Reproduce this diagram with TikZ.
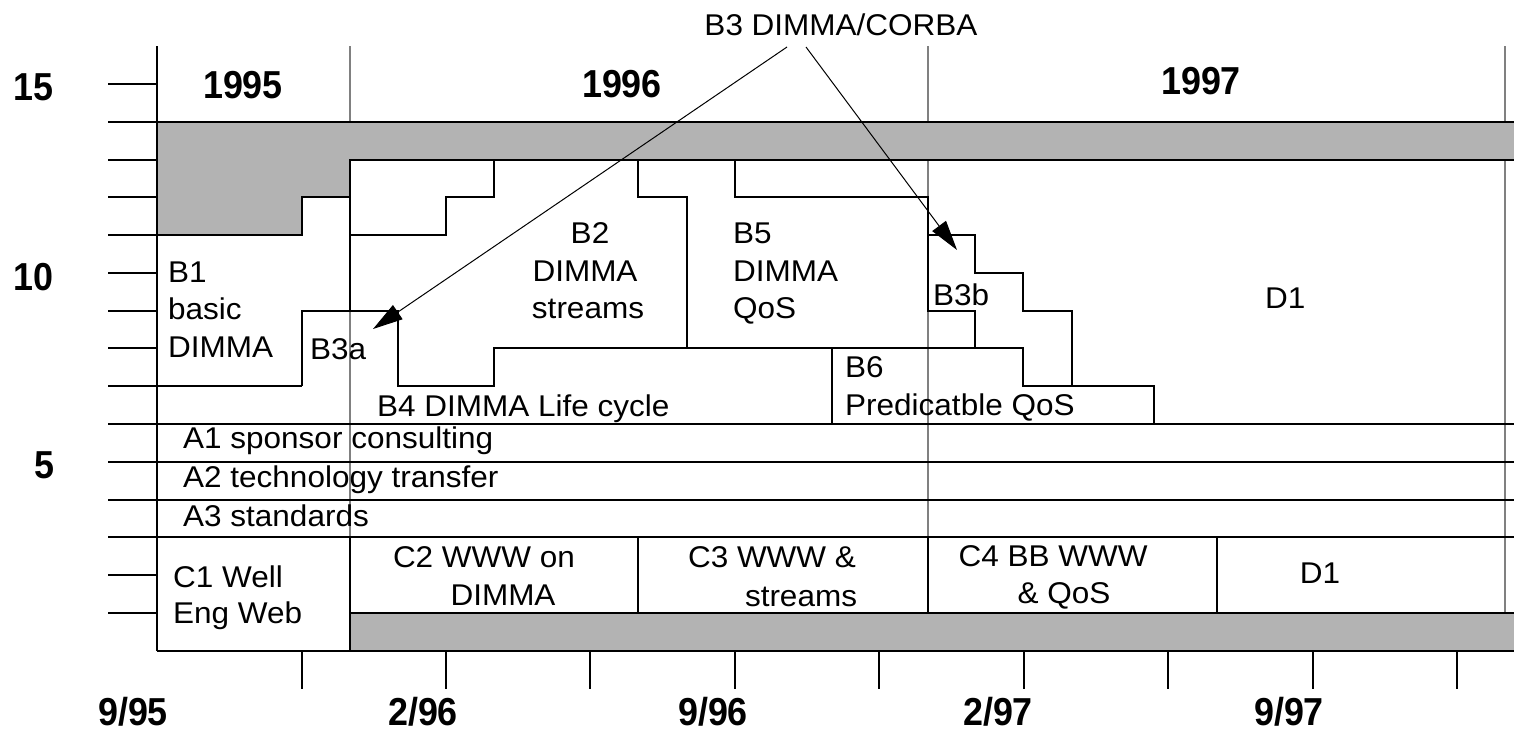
\documentclass[tikz,border=0pt]{standalone}
\usepackage{fontspec}
\setmainfont{Liberation Sans}
\newfontfamily\regf{Liberation Sans}[FakeStretch=1.05]
\newfontfamily\boldf{Liberation Sans}[FakeStretch=0.92]
\usetikzlibrary{arrows.meta}
\definecolor{bandgray}{HTML}{B3B3B3}
\definecolor{gridgray}{HTML}{808080}
\tikzset{
  lbl/.style={inner sep=0pt, font=\regf\fontsize{30}{37.5}\selectfont},
  blbl/.style={inner sep=0pt, font=\boldf\bfseries\fontsize{39}{45}\selectfont},
  ln/.style={line width=1.2pt, draw=black},
  yearline/.style={line width=1.2pt, draw=gridgray},
  band/.style={fill=bandgray, draw=black, line width=1.2pt},
  arr/.style={line width=1pt, -{Triangle[length=30pt,width=17pt]}}
}
\begin{document}
\begin{tikzpicture}[x=1pt,y=-1pt]
\useasboundingbox (0,0) rectangle (1514,732);
% year separator lines (gray, under everything)
\draw[yearline] (350,46) -- (350,651);
\draw[yearline] (928,46) -- (928,613);
\draw[yearline] (1505,46) -- (1505,613);
% gray bands
\path[fill=bandgray] (157,122) -- (1514,122) -- (1514,160) -- (350,160) -- (350,197) -- (302,197) -- (302,235) -- (157,235) -- cycle;
\draw[ln] (1514,122) -- (157,122) -- (157,235) -- (302,235) -- (302,197) -- (350,197) -- (350,160) -- (1514,160);
\path[fill=bandgray] (350,613) rectangle (1514,651);
% left border
\draw[ln] (157,46) -- (157,651);
% row ticks
\foreach \yy in {84,122,160,197,235,273,311,348,386,424,462,500,537,575,613}
  \draw[ln] (108,\yy) -- (157,\yy);
% long row lines
\draw[ln] (157,122) -- (1514,122);
\draw[ln] (157,386) -- (302,386);
\foreach \yy in {424,462,500,537}
  \draw[ln] (157,\yy) -- (1514,\yy);
\draw[ln] (350,613) -- (1514,613);
\draw[ln] (157,651) -- (1514,651);
% B region boundaries
\draw[ln] (350,160) -- (350,311);
\draw[ln] (350,235) -- (446,235) -- (446,197) -- (494,197) -- (494,160);
\draw[ln] (302,386) -- (302,311) -- (398,311) -- (398,386) -- (494,386) -- (494,348) -- (1023,348) -- (1023,386) -- (1154,386) -- (1154,424);
\draw[ln] (832,348) -- (832,424);
\draw[ln] (638,160) -- (638,197) -- (687,197) -- (687,348);
\draw[ln] (735,160) -- (735,197) -- (928,197) -- (928,311) -- (975,311) -- (975,348);
\draw[ln] (928,235) -- (975,235) -- (975,273) -- (1023,273) -- (1023,311) -- (1072,311) -- (1072,386);
% C boxes
\draw[ln] (350,537) -- (350,651);
\draw[ln] (638,537) -- (638,613);
\draw[ln] (928,537) -- (928,613);
\draw[ln] (1217,537) -- (1217,613);
% bottom ticks
\foreach \xx in {302,446,590,735,879,1024,1168,1313,1457}
  \draw[ln] (\xx,651) -- (\xx,689);
% bold labels
\node[blbl, anchor=base] (y95) at (243,98) {1995};
\node[blbl, anchor=base] (y96) at (622,97) {1996};
\node[blbl, anchor=base] (y97) at (1201,94) {1997};
\node[blbl, anchor=base east] (v15) at (54,100) {15};
\node[blbl, anchor=base east] (v10) at (54,290) {10};
\node[blbl, anchor=base east] (v5) at (55,478) {5};
\node[blbl, anchor=base] (d995) at (133,725) {9/95};
\node[blbl, anchor=base] (d296) at (423,725) {2/96};
\node[blbl, anchor=base] (d996) at (713,725) {9/96};
\node[blbl, anchor=base] (d297) at (998,725) {2/97};
\node[blbl, anchor=base] (d997) at (1289,725) {9/97};
% regular labels
\node[lbl, anchor=base] (b3) at (841,35) {B3 DIMMA/CORBA};
\node[lbl, anchor=base west] (b1a) at (168,282) {B1};
\node[lbl, anchor=base west] (b1b) at (168,319) {basic};
\node[lbl, anchor=base west] (b1c) at (168,357) {DIMMA};
\node[lbl, anchor=base west] (b3a) at (310,359) {B3a};
\node[lbl, anchor=base] (b2a) at (590,243) {B2};
\node[lbl, anchor=base] (b2b) at (585,281) {DIMMA};
\node[lbl, anchor=base] (b2c) at (588,318) {streams};
\node[lbl, anchor=base west] (b5a) at (733,243) {B5};
\node[lbl, anchor=base west] (b5b) at (733,281) {DIMMA};
\node[lbl, anchor=base west] (b5c) at (733,318) {QoS};
\node[lbl, anchor=base west] (b3b) at (933,305) {B3b};
\node[lbl, anchor=base west] (d1top) at (1265,308) {D1};
\node[lbl, anchor=base west] (b4) at (377,416) {B4 DIMMA Life cycle};
\node[lbl, anchor=base west] (b6a) at (845,377) {B6};
\node[lbl, anchor=base west] (b6b) at (845,415) {Predicatble QoS};
\node[lbl, anchor=base west] (a1) at (183,448) {A1 sponsor consulting};
\node[lbl, anchor=base west] (a2) at (183,487) {A2 technology transfer};
\node[lbl, anchor=base west] (a3) at (183,526) {A3 standards};
\node[lbl, anchor=base west] (c1a) at (173,587) {C1 Well};
\node[lbl, anchor=base west] (c1b) at (173,623) {Eng Web};
\node[lbl, anchor=base] (c2a) at (484,567) {C2 WWW on};
\node[lbl, anchor=base] (c2b) at (503,605) {DIMMA};
\node[lbl, anchor=base] (c3a) at (772,567) {C3 WWW \&};
\node[lbl, anchor=base] (c3b) at (801,606) {streams};
\node[lbl, anchor=base] (c4a) at (1053,566) {C4 BB WWW};
\node[lbl, anchor=base] (c4b) at (1064,603) {\& QoS};
\node[lbl, anchor=base] (d1bot) at (1320,583) {D1};
% arrows
\coordinate (b3L) at (787,47);
\coordinate (b3R) at (806,47);
\coordinate (b3aTip) at (373,329);
\coordinate (b3bTip) at (957,250);
\draw[arr] (b3L) -- (b3aTip);
\draw[arr] (b3R) -- (b3bTip);
\end{tikzpicture}
\end{document}
